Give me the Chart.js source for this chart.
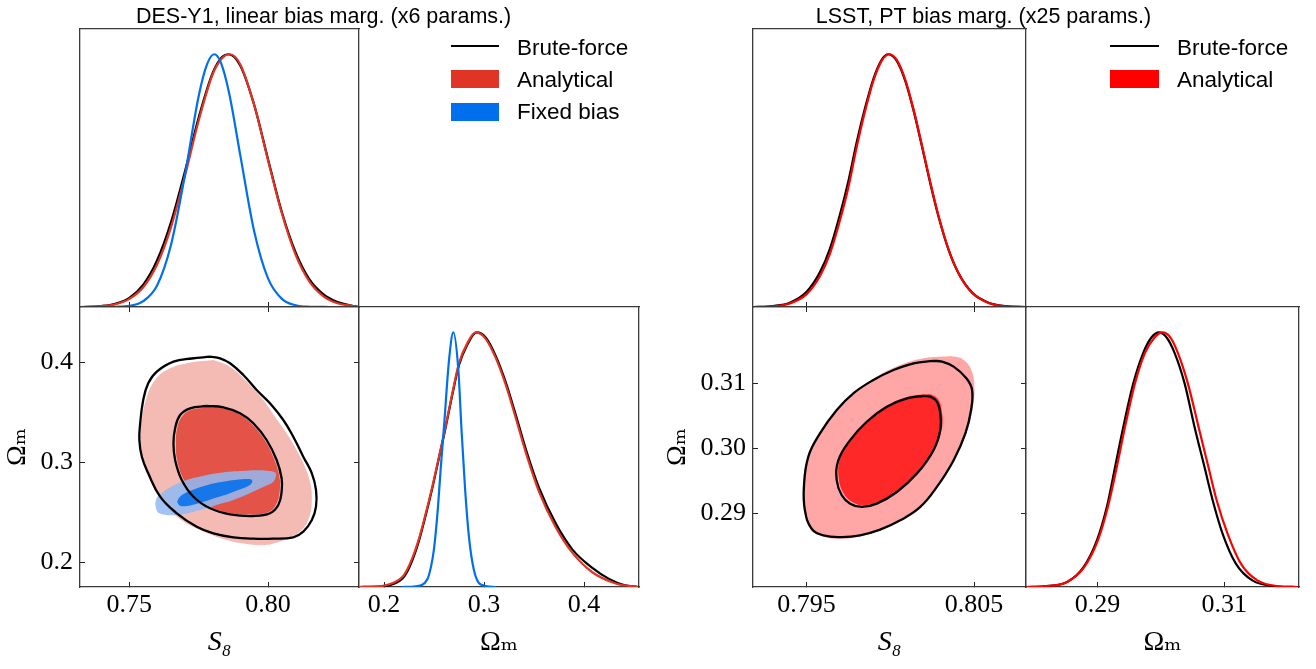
<!DOCTYPE html>
<html><head><meta charset="utf-8">
<script src="https://cdn.jsdelivr.net/npm/chart.js@4.4.1/dist/chart.umd.min.js"></script>
<style>
html,body{margin:0;padding:0;background:#fff;}
#wrap{position:relative;width:1316px;height:669px;overflow:hidden;background:#fff;}
canvas{position:absolute;left:0;top:0;}
.t{position:absolute;font-family:'Liberation Sans',Arial,Helvetica,sans-serif;color:#000;white-space:nowrap;line-height:1;}
.sw{position:absolute;}
</style></head><body>
<div id="wrap">
<canvas id="cA" width="1316" height="669"></canvas>
<canvas id="cB" width="1316" height="669"></canvas>
<canvas id="cC" width="1316" height="669"></canvas>
<canvas id="cD" width="1316" height="669"></canvas>
<canvas id="cE" width="1316" height="669"></canvas>
<canvas id="cF" width="1316" height="669"></canvas>

<div class="t" style="left:323.6px;top:5.5px;font-size:21.5px;transform:translateX(-50%);">DES-Y1, linear bias marg. (x6 params.)</div>
<div class="t" style="left:983.5px;top:5.5px;font-size:21.5px;transform:translateX(-50%);">LSST, PT bias marg. (x25 params.)</div>

<div class="sw" style="left:451px;top:45px;width:48px;height:2.2px;background:#000;"></div>
<div class="t" style="left:517px;top:36.7px;font-size:22.5px;">Brute-force</div>
<div class="sw" style="left:451px;top:70px;width:48px;height:18px;background:#E03424;"></div>
<div class="t" style="left:517px;top:68.5px;font-size:22.5px;">Analytical</div>
<div class="sw" style="left:451px;top:102.5px;width:48px;height:18px;background:#006FED;"></div>
<div class="t" style="left:517px;top:100.7px;font-size:22.5px;">Fixed bias</div>

<div class="sw" style="left:1110px;top:45px;width:49px;height:2.2px;background:#000;"></div>
<div class="t" style="left:1177px;top:36.7px;font-size:22.5px;">Brute-force</div>
<div class="sw" style="left:1110px;top:70px;width:49px;height:18px;background:#FF0000;"></div>
<div class="t" style="left:1177px;top:68.5px;font-size:22.5px;">Analytical</div>
</div>
<script>
// ---------- tick values / labels ----------
const desS8Ticks = [0.75, 0.80];
const desS8TickLabels = ['0.75', '0.80'];
const desOmTicks = [0.2, 0.3, 0.4];
const desOmTickLabels = ['0.2', '0.3', '0.4'];
const lsstS8Ticks = [0.795, 0.805];
const lsstS8TickLabels = ['0.795', '0.805'];
const lsstOmTicks2D = [0.29, 0.30, 0.31];
const lsstOmTickLabels2D = ['0.29', '0.30', '0.31'];
const lsstOmTicks1D = [0.29, 0.31];
const lsstOmTickLabels1D = ['0.29', '0.31'];

// ---------- DES-Y1 1D: S8 ----------
const desS8_bf_x = [0.7322,0.740,0.745,0.750,0.755,0.760,0.765,0.770,0.775,0.780,0.7835,0.7857,0.790,0.795,0.800,0.805,0.810,0.815,0.820,0.825,0.830,0.8328];
const desS8_bf_p = [0,0.004,0.013,0.036,0.088,0.185,0.335,0.535,0.750,0.925,0.990,1.0,0.955,0.80,0.585,0.375,0.215,0.108,0.050,0.020,0.006,0];
const desS8_an_x = [0.7322,0.740,0.745,0.750,0.755,0.760,0.765,0.770,0.775,0.780,0.7835,0.7862,0.790,0.795,0.800,0.805,0.810,0.815,0.820,0.825,0.830,0.8328];
const desS8_an_p = [0,0.0035,0.011,0.032,0.078,0.168,0.315,0.517,0.738,0.920,0.985,1.0,0.960,0.800,0.580,0.370,0.205,0.099,0.042,0.015,0.005,0];
const desS8_fx_x = [0.738,0.745,0.750,0.755,0.760,0.765,0.770,0.775,0.778,0.7806,0.783,0.786,0.790,0.795,0.800,0.805,0.810,0.815,0.822];
const desS8_fx_p = [0,0.001,0.0044,0.023,0.085,0.245,0.52,0.835,0.96,1.0,0.967,0.845,0.60,0.30,0.113,0.032,0.0068,0.001,0];

// ---------- DES-Y1 1D: Omega_m ----------
const desOm_bf_x = [0.175,0.195,0.2017,0.210,0.2183,0.224,0.230,0.235,0.240,0.2483,0.255,0.261,0.2683,0.275,0.2833,0.2925,0.3017,0.3117,0.3217,0.3317,0.3417,0.355,0.3717,0.3883,0.4083,0.4250,0.440,0.454];
const desOm_bf_p = [0,0.001,0.004,0.013,0.032,0.066,0.122,0.182,0.255,0.388,0.508,0.615,0.755,0.872,0.952,1.0,0.980,0.908,0.805,0.677,0.543,0.390,0.250,0.148,0.075,0.032,0.008,0];
const desOm_an_x = [0.175,0.190,0.2017,0.210,0.2183,0.224,0.230,0.235,0.240,0.2483,0.255,0.261,0.2683,0.275,0.2833,0.2917,0.3017,0.3117,0.3217,0.3317,0.3417,0.355,0.3717,0.3883,0.4083,0.4317,0.454];
const desOm_an_p = [0,0.002,0.007,0.018,0.039,0.075,0.131,0.19,0.262,0.394,0.512,0.62,0.761,0.879,0.958,1.0,0.975,0.900,0.795,0.665,0.530,0.375,0.235,0.135,0.058,0.014,0];
const desOm_fx_x = [0.2183,0.2317,0.2433,0.247,0.25,0.254,0.2567,0.26,0.265,0.2693,0.2743,0.2777,0.281,0.285,0.29,0.2967,0.3117];
const desOm_fx_p = [0,0.003,0.03,0.08,0.15,0.315,0.465,0.63,0.89,1.0,0.855,0.605,0.39,0.195,0.065,0.01,0];

// ---------- DES-Y1 2D contours (S8, Omega_m) ----------
const desC_bf95_s8 = [0.7791,0.7725,0.7659,0.7599,0.7568,0.7550,0.7539,0.7536,0.7545,0.7568,0.7611,0.7671,0.7743,0.7803,0.7875,0.7947,0.8019,0.8091,0.8127,0.8158,0.8173,0.8173,0.8158,0.8127,0.8091,0.8055,0.8007,0.7959,0.7911,0.7863,0.7827,0.7791];
const desC_bf95_om = [0.4053,0.4035,0.4003,0.3903,0.3787,0.362,0.3387,0.322,0.3053,0.2887,0.2653,0.2487,0.2353,0.2287,0.2247,0.2233,0.2233,0.2247,0.2303,0.242,0.2553,0.272,0.2887,0.3053,0.3253,0.342,0.3587,0.372,0.387,0.3987,0.4037,0.4053];
const desC_bf68_s8 = [0.7779,0.7719,0.7683,0.7665,0.7659,0.7665,0.7689,0.7731,0.7791,0.7863,0.7947,0.8007,0.8037,0.8049,0.8049,0.8031,0.7995,0.7947,0.7899,0.7839,0.7779];
const desC_bf68_om = [0.356,0.3537,0.347,0.3337,0.3187,0.302,0.282,0.2653,0.2537,0.2477,0.246,0.2487,0.257,0.2703,0.2837,0.302,0.322,0.3387,0.3487,0.3547,0.356];
const desC_an95_s8 = [0.7803,0.7707,0.7635,0.7593,0.7563,0.7545,0.7539,0.7548,0.7575,0.7617,0.7671,0.7755,0.7851,0.7923,0.7983,0.8031,0.8079,0.8121,0.8149,0.8158,0.8151,0.8133,0.8103,0.8067,0.8025,0.7983,0.7935,0.7887,0.7851,0.7803];
const desC_an95_om = [0.402,0.3987,0.392,0.382,0.3653,0.342,0.322,0.302,0.282,0.262,0.2453,0.232,0.222,0.218,0.217,0.2193,0.2247,0.232,0.2453,0.2653,0.2803,0.2953,0.312,0.3287,0.3453,0.362,0.377,0.3903,0.397,0.402];
const desC_an68_s8 = [0.7779,0.7722,0.7690,0.7672,0.7668,0.7672,0.7695,0.7736,0.7793,0.7863,0.7945,0.8003,0.8030,0.8042,0.8042,0.8024,0.7990,0.7943,0.7897,0.7839,0.7779];
const desC_an68_om = [0.3545,0.352,0.3455,0.3330,0.3187,0.3025,0.2830,0.2665,0.2550,0.2490,0.2475,0.2500,0.2580,0.2705,0.2835,0.3015,0.3210,0.3375,0.3475,0.3535,0.3545];
const desC_fx95_s8 = [0.7593,0.7601,0.7623,0.7660,0.7707,0.7760,0.7815,0.7870,0.7923,0.7965,0.7995,0.8020,0.8029,0.8019,0.7990,0.7940,0.7875,0.7820,0.7779,0.7735,0.7695,0.7660,0.7635,0.7610,0.7599,0.7593];
const desC_fx95_om = [0.2587,0.2650,0.2703,0.2765,0.2820,0.2857,0.2887,0.2905,0.2913,0.2917,0.2913,0.2903,0.2880,0.2803,0.2760,0.2695,0.2620,0.2575,0.2537,0.2505,0.2477,0.2467,0.2470,0.2485,0.2513,0.2587];
const desC_fx68_s8 = [0.7672,0.7680,0.7700,0.7735,0.7779,0.7825,0.7870,0.7905,0.7929,0.7942,0.7941,0.7925,0.7895,0.7860,0.7815,0.7770,0.7730,0.7700,0.7682,0.7672];
const desC_fx68_om = [0.2600,0.2645,0.2688,0.2728,0.2768,0.2797,0.2818,0.2828,0.2830,0.2818,0.2788,0.2755,0.2722,0.2686,0.2645,0.2605,0.2572,0.2558,0.2563,0.2600];

// ---------- LSST 1D: S8 ----------
const lsstS8_bf_x = [0.7918,0.7930,0.7940,0.7950,0.7958,0.7964,0.7970,0.7975,0.7980,0.7985,0.7990,0.7995,0.79988,0.8004,0.8009,0.8014,0.8019,0.8024,0.8029,0.8035,0.8041,0.8049,0.8059,0.8069,0.8081];
const lsstS8_bf_p = [0,0.004,0.017,0.06,0.138,0.232,0.368,0.50,0.655,0.79,0.905,0.98,1.0,0.972,0.893,0.774,0.632,0.485,0.352,0.222,0.13,0.056,0.016,0.0035,0];
const lsstS8_an_x = [0.7918,0.7930,0.7940,0.7950,0.7958,0.7964,0.7970,0.7975,0.7980,0.7985,0.7990,0.7995,0.79995,0.8004,0.8009,0.8014,0.8019,0.8024,0.8029,0.8035,0.8041,0.8049,0.8059,0.8069,0.8081];
const lsstS8_an_p = [0,0.003,0.014,0.051,0.123,0.212,0.345,0.475,0.636,0.778,0.898,0.976,1.0,0.976,0.898,0.778,0.636,0.49,0.355,0.223,0.13,0.055,0.015,0.003,0];

// ---------- LSST 1D: Omega_m ----------
const lsstOm_bf_x = [0.2788,0.28154,0.28521,0.28781,0.28991,0.29147,0.29277,0.29407,0.29564,0.2972,0.2985,0.2997,0.3009,0.30217,0.30374,0.3053,0.30687,0.30817,0.30973,0.31183,0.31443,0.3181,0.3216];
const lsstOm_bf_p = [0,0.003,0.020,0.079,0.184,0.315,0.472,0.63,0.80,0.919,0.98,1.0,0.98,0.919,0.80,0.63,0.472,0.341,0.21,0.092,0.026,0.003,0];
const lsstOm_an_x = [0.2788,0.28154,0.28521,0.28792,0.29006,0.29163,0.29304,0.29434,0.2959,0.29747,0.2990,0.30023,0.3015,0.30269,0.30425,0.30593,0.30749,0.3088,0.31052,0.31262,0.31522,0.31861,0.3216];
const lsstOm_an_p = [0,0.003,0.020,0.079,0.184,0.315,0.472,0.63,0.80,0.919,0.98,1.0,0.98,0.919,0.80,0.63,0.472,0.341,0.21,0.092,0.026,0.003,0];

// ---------- LSST 2D contours ----------
const lsstC_bf95_s8 = [0.80258,0.80139,0.80019,0.79899,0.79779,0.7968,0.7958,0.7951,0.79484,0.7949,0.7953,0.7960,0.7971,0.79819,0.79939,0.80059,0.80179,0.80278,0.80378,0.80448,0.80482,0.80488,0.80454,0.80378,0.80308,0.80258];
const lsstC_bf95_om = [0.3135,0.31314,0.31211,0.31057,0.30851,0.30594,0.30234,0.29873,0.29411,0.2905,0.28767,0.28665,0.28639,0.28665,0.28752,0.28896,0.29102,0.29411,0.29822,0.30234,0.30594,0.30902,0.31082,0.31262,0.3134,0.3135];
const lsstC_bf68_s8 = [0.80199,0.80099,0.79979,0.79859,0.7976,0.7969,0.7968,0.7971,0.7976,0.79829,0.79919,0.80039,0.80159,0.80258,0.80298,0.80298,0.80278,0.80239,0.80199];
const lsstC_bf68_om = [0.3081,0.30774,0.30645,0.30414,0.30131,0.29822,0.29513,0.29282,0.29153,0.29102,0.29153,0.29333,0.29616,0.29976,0.30285,0.30542,0.30722,0.308,0.3081];
const lsstC_an95_s8 = [0.80318,0.80199,0.80059,0.79919,0.79789,0.7968,0.7958,0.79506,0.7948,0.79486,0.7953,0.7961,0.7971,0.79819,0.79939,0.80059,0.80179,0.80282,0.80382,0.80454,0.8049,0.80502,0.80488,0.80438,0.80378,0.80318];
const lsstC_an95_om = [0.31417,0.31391,0.31288,0.31108,0.30877,0.30594,0.30234,0.29873,0.29411,0.2905,0.28742,0.28639,0.28613,0.28649,0.28742,0.28886,0.29092,0.29411,0.29822,0.30234,0.30594,0.30902,0.31185,0.31365,0.31417,0.31417];
const lsstC_an68_s8 = [0.80205,0.80105,0.79985,0.79865,0.79768,0.79700,0.79692,0.79722,0.79772,0.79838,0.79925,0.80045,0.80165,0.80265,0.80308,0.80308,0.80288,0.80247,0.80205];
const lsstC_an68_om = [0.30838,0.30800,0.30670,0.30440,0.30155,0.29845,0.29540,0.29310,0.29180,0.29128,0.29178,0.29357,0.29640,0.30000,0.30310,0.30567,0.30748,0.30828,0.30838];

// ---------- helpers ----------
const W = 1316, H = 669;
const TICK_FONT = {family: "'Liberation Serif','Times New Roman',serif", size: 26};
const LABEL_FONT = {family: "'Liberation Serif','DejaVu Serif','Times New Roman',serif", size: 28};
const BLACK = '#000000', DESRED = '#E03424', DESBLUE = '#006FED', LSSTRED = '#FF0000';
const TENSION = 0.42;

const pts = (xs, ys) => xs.map((x, i) => ({x: x, y: ys[i]}));
const curve = (xs, ys, color) => ({data: pts(xs, ys), borderColor: color, borderWidth: 2.2, pointRadius: 0, fill: false, cubicInterpolationMode: 'monotone'});
const cline = (xs, ys) => ({data: pts(xs, ys), borderColor: BLACK, borderWidth: 2.3, pointRadius: 0, fill: false, tension: TENSION, capBezierPoints: false});
const cfill = (xs, ys, color) => ({data: pts(xs, ys), borderColor: 'rgba(0,0,0,0)', borderWidth: 0, backgroundColor: color, pointRadius: 0, fill: 'shape', tension: TENSION, capBezierPoints: false});

function ax(pos, min, max, o) {
  o = o || {};
  const horiz = pos === 'top' || pos === 'bottom';
  const cfg = {
    type: 'linear', position: pos, min: min, max: max,
    afterFit: s => { if (horiz) s.height = o.size || 0; else s.width = o.size || 0; },
    ticks: {display: !!o.labels, font: TICK_FONT, color: '#000', padding: o.pad || 0, autoSkip: false, maxRotation: 0, minRotation: 0,
      callback: (v, i) => (o.labels ? o.labels[i] : '')},
    grid: {display: !!o.values, drawOnChartArea: false, drawTicks: true, tickLength: -5, color: '#222', lineWidth: 1},
    border: {display: true, color: '#3a3a3a', width: 1.3},
    title: o.title ? {display: true, text: o.title, font: Object.assign({}, LABEL_FONT, {style: o.italic ? 'italic' : 'normal'}), color: '#000', padding: 0} : {display: false}
  };
  if (o.values) cfg.afterBuildTicks = s => { s.ticks = o.values.map(v => ({value: v})); };
  return cfg;
}

function panel(id, area, xr, yr, xo, yo, x2o, y2o, datasets) {
  const xs = xo.size || 0, ys = yo.size || 0;
  new Chart(document.getElementById(id), {
    type: 'line',
    data: {datasets: datasets},
    options: {
      responsive: false, animation: false, devicePixelRatio: 1, events: [],
      layout: {padding: {left: area.l - ys, right: W - area.r, top: area.t, bottom: H - area.b - xs}},
      plugins: {legend: {display: false}, tooltip: {enabled: false}},
      elements: {point: {radius: 0}},
      scales: {
        x: ax('bottom', xr[0], xr[1], xo),
        y: ax('left', yr[0], yr[1], yo),
        x2: ax('top', xr[0], xr[1], x2o),
        y2: ax('right', yr[0], yr[1], y2o)
      }
    }
  });
}

const desS8Range = [0.7322, 0.8328], desOmRange = [0.175, 0.455];
const lsstS8Range = [0.7918, 0.8081], lsstOmRange = [0.2787, 0.3218];
const pRange = [0, 1.1];
const XSIZE = 72.8;

// DES top: S8 1D
panel('cA', {l: 80, r: 359, t: 29, b: 307}, desS8Range, pRange,
  {values: desS8Ticks}, {}, {}, {},
  [curve(desS8_fx_x, desS8_fx_p, DESBLUE), curve(desS8_an_x, desS8_an_p, DESRED), curve(desS8_bf_x, desS8_bf_p, BLACK)]);

// DES 2D
panel('cB', {l: 80, r: 359, t: 307, b: 587}, desS8Range, desOmRange,
  {values: desS8Ticks, labels: desS8TickLabels, size: XSIZE, pad: 8, title: 'S₈', italic: true},
  {values: desOmTicks, labels: desOmTickLabels, size: 78.8, pad: 12, title: 'Ωₘ'},
  {values: desS8Ticks}, {values: desOmTicks},
  [cline(desC_bf68_s8, desC_bf68_om), cline(desC_bf95_s8, desC_bf95_om),
   cfill(desC_fx68_s8, desC_fx68_om, 'rgba(0,111,237,0.86)'), cfill(desC_fx95_s8, desC_fx95_om, 'rgba(145,185,243,0.86)'),
   cfill(desC_an68_s8, desC_an68_om, 'rgba(226,66,54,0.86)'), cfill(desC_an95_s8, desC_an95_om, 'rgba(241,176,168,0.86)')]);

// DES Omega_m 1D
panel('cC', {l: 359, r: 639, t: 307, b: 587}, desOmRange, pRange,
  {values: desOmTicks, labels: desOmTickLabels, size: XSIZE, pad: 8, title: 'Ωₘ'}, {}, {}, {},
  [curve(desOm_fx_x, desOm_fx_p, DESBLUE), curve(desOm_an_x, desOm_an_p, DESRED), curve(desOm_bf_x, desOm_bf_p, BLACK)]);

// LSST top: S8 1D
panel('cD', {l: 753, r: 1026, t: 29, b: 307}, lsstS8Range, pRange,
  {values: lsstS8Ticks}, {}, {}, {},
  [curve(lsstS8_an_x, lsstS8_an_p, LSSTRED), curve(lsstS8_bf_x, lsstS8_bf_p, BLACK)]);

// LSST 2D
panel('cE', {l: 753, r: 1026, t: 307, b: 587}, lsstS8Range, lsstOmRange,
  {values: lsstS8Ticks, labels: lsstS8TickLabels, size: XSIZE, pad: 8, title: 'S₈', italic: true},
  {values: lsstOmTicks2D, labels: lsstOmTickLabels2D, size: 91.8, pad: 12, title: 'Ωₘ'},
  {values: lsstS8Ticks}, {values: lsstOmTicks2D},
  [cline(lsstC_bf68_s8, lsstC_bf68_om), cline(lsstC_bf95_s8, lsstC_bf95_om),
   cfill(lsstC_an68_s8, lsstC_an68_om, 'rgba(255,20,20,0.86)'), cfill(lsstC_an95_s8, lsstC_an95_om, 'rgba(255,152,152,0.86)')]);

// LSST Omega_m 1D
panel('cF', {l: 1026, r: 1299, t: 307, b: 587}, lsstOmRange, pRange,
  {values: lsstOmTicks1D, labels: lsstOmTickLabels1D, size: XSIZE, pad: 8, title: 'Ωₘ'}, {}, {}, {},
  [curve(lsstOm_an_x, lsstOm_an_p, LSSTRED), curve(lsstOm_bf_x, lsstOm_bf_p, BLACK)]);
</script>
</body></html>
